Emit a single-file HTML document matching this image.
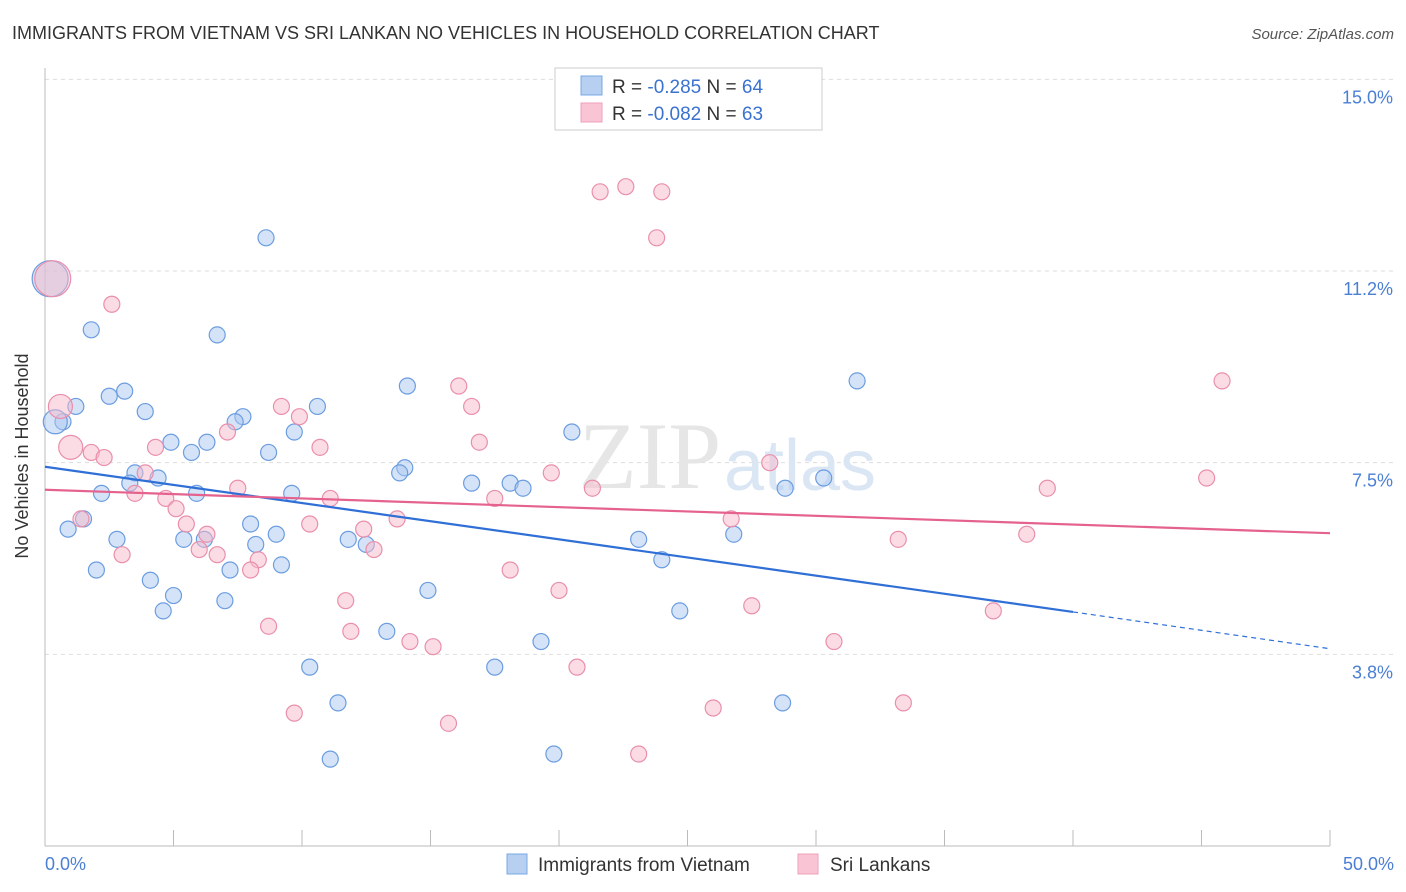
<!DOCTYPE html>
<html><head><meta charset="utf-8">
<style>
body{margin:0;background:#fff;font-family:"Liberation Sans",sans-serif;}
svg{display:block}
</style></head>
<body>
<svg width="1406" height="892" viewBox="0 0 1406 892" id="chart">
<text x="12" y="39" font-size="18" fill="#333">IMMIGRANTS FROM VIETNAM VS SRI LANKAN NO VEHICLES IN HOUSEHOLD CORRELATION CHART</text>
<text x="1394" y="39" font-size="15" fill="#555" font-style="italic" text-anchor="end">Source: ZipAtlas.com</text>
<g id="grid"></g>
<text x="650" y="488" font-size="95" fill="#e6e6e6" font-family="Liberation Serif,serif" text-anchor="middle">ZIP</text>
<text x="800" y="490" font-size="72" fill="#dbe6f4" text-anchor="middle">atlas</text>
<line x1="45" y1="68" x2="45" y2="846" stroke="#bbb"/>
<line x1="45" y1="846" x2="1330" y2="846" stroke="#bbb"/>
<g id="marks"></g>
<text x="28" y="456" font-size="18" fill="#333" text-anchor="middle" transform="rotate(-90 28 456)">No Vehicles in Household</text>
<text x="45" y="870" font-size="18" fill="#4a7fd4">0.0%</text>
<text x="1394" y="870" font-size="18" fill="#4a7fd4" text-anchor="end">50.0%</text>
<g>
<rect x="555" y="68" width="267" height="62" fill="#fff" stroke="#ccc"/>
<rect x="581" y="76" width="21" height="19" fill="#b7d0f2" stroke="#7aa7e3"/>
<rect x="581" y="103" width="21" height="19" fill="#f9c5d4" stroke="#eea0b8"/>
<text x="612" y="93" font-size="19" fill="#333">R = <tspan fill="#3a72d0">-0.285</tspan>   N = <tspan fill="#3a72d0">64</tspan></text>
<text x="612" y="120" font-size="19" fill="#333">R = <tspan fill="#3a72d0">-0.082</tspan>   N = <tspan fill="#3a72d0">63</tspan></text>
</g>
<g>
<rect x="507" y="854" width="20" height="20" fill="#b7d0f2" stroke="#7aa7e3"/>
<text x="538" y="871" font-size="19" fill="#333">Immigrants from Vietnam</text>
<rect x="798" y="854" width="20" height="20" fill="#f9c5d4" stroke="#eea0b8"/>
<text x="830" y="871" font-size="19" fill="#333">Sri Lankans</text>
</g>
</svg>
<script>
const yTicks=[3.75,7.5,11.25,15];
const yTickLabels=["3.8%","7.5%","11.2%","15.0%"];
const xTickVals=[0,5,10,15,20,25,30,35,40,45,50];
const blueX=[8.6,1.8,6.7,14.1,31.6,3.1,2.5,1.2,3.9,10.6,7.7,7.4,0.7,9.7,20.5,4.9,6.3,5.7,8.7,14.0,13.8,3.5,4.4,3.3,16.6,18.1,18.6,5.9,9.6,2.2,28.8,30.3,1.5,0.9,8.0,9.0,5.4,2.8,6.2,11.8,12.5,23.1,26.8,8.2,2.0,9.2,7.2,24.0,4.1,5.0,14.9,7.0,4.6,24.7,13.3,19.3,10.3,17.5,11.4,28.7,11.1,19.8,0.4,0.2];
const blueY=[11.9,10.1,10.0,9.0,9.1,8.9,8.8,8.6,8.5,8.6,8.4,8.3,8.3,8.1,8.1,7.9,7.9,7.7,7.7,7.4,7.3,7.3,7.2,7.1,7.1,7.1,7.0,6.9,6.9,6.9,7.0,7.2,6.4,6.2,6.3,6.1,6.0,6.0,6.0,6.0,5.9,6.0,6.1,5.9,5.4,5.5,5.4,5.6,5.2,4.9,5.0,4.8,4.6,4.6,4.2,4.0,3.5,3.5,2.8,2.8,1.7,1.8,8.3,11.1];
const blueSize=blueX.map((v,i)=>i===62?12:(i===63?18:8));
const pinkX=[22.6,21.6,24.0,23.8,2.6,0.3,16.1,45.8,0.6,9.2,9.9,16.6,7.1,4.3,16.9,10.7,1.0,1.8,2.3,28.2,3.9,19.7,45.2,7.5,21.3,39.0,3.5,17.5,11.1,4.7,5.1,1.4,13.7,5.5,10.3,26.7,12.4,6.3,33.2,38.2,6.0,6.7,12.8,3.0,8.3,8.0,18.1,20.0,11.7,27.5,36.9,8.7,11.9,14.2,15.1,30.7,20.7,33.4,9.7,26.0,15.7,23.1];
const pinkY=[12.9,12.8,12.8,11.9,10.6,11.1,9.0,9.1,8.6,8.6,8.4,8.6,8.1,7.8,7.9,7.8,7.8,7.7,7.6,7.5,7.3,7.3,7.2,7.0,7.0,7.0,6.9,6.8,6.8,6.8,6.6,6.4,6.4,6.3,6.3,6.4,6.2,6.1,6.0,6.1,5.8,5.7,5.8,5.7,5.6,5.4,5.4,5.0,4.8,4.7,4.6,4.3,4.2,4.0,3.9,4.0,3.5,2.8,2.6,2.7,2.4,1.8];
const pinkSize=pinkX.map((v,i)=>i===5?18:((i===8||i===16)?12:8));
const blueTrend=[[0,7.42],[40,4.58],[50,3.86]];
const pinkTrend=[[0,6.97],[50,6.12]];

const NS="http://www.w3.org/2000/svg";
const X=v=>45+v/50*1285;
const Y=v=>846-v*51.11;
const grid=document.getElementById('grid'),marks=document.getElementById('marks');
function mk(tag,attrs,parent){const e=document.createElementNS(NS,tag);for(const k in attrs)e.setAttribute(k,attrs[k]);parent.appendChild(e);return e;}
yTicks.forEach((t,i)=>{
  const l=mk('line',{x1:45,x2:1394,y1:Y(t),y2:Y(t),stroke:'#ddd','stroke-dasharray':'4,4'},grid);
  
  
  const tx=mk('text',{x:1393,y:Y(t)+24,'font-size':18,fill:'#4a7fd4','text-anchor':'end'},grid);
  tx.textContent=yTickLabels[i];
  
  
});
xTickVals.forEach(t=>{
  const l=mk('line',{x1:X(t),x2:X(t),y1:830,y2:846,stroke:'#bbb'},grid);
  
  
});
function pts(xs,ys,sz,fill,stroke,name){
  xs.forEach((x,i)=>{
    const c=mk('circle',{cx:X(x),cy:Y(ys[i]),r:sz[i],fill:fill,'fill-opacity':0.5,stroke:stroke,'stroke-width':1.2},marks);
    
    
  });
}
pts(blueX,blueY,blueSize,'#a9c7f0','#6b9de0','vietnam-point');
pts(pinkX,pinkY,pinkSize,'#f7b9cc','#ea8fab','srilankan-point');
const bl=mk('line',{x1:X(blueTrend[0][0]),y1:Y(blueTrend[0][1]),x2:X(blueTrend[1][0]),y2:Y(blueTrend[1][1]),stroke:'#2f6fd6','stroke-width':2.2},marks);


const bd=mk('line',{x1:X(blueTrend[1][0]),y1:Y(blueTrend[1][1]),x2:X(blueTrend[2][0]),y2:Y(blueTrend[2][1]),stroke:'#2f6fd6','stroke-width':1.2,'stroke-dasharray':'5,4'},marks);


const pl=mk('line',{x1:X(pinkTrend[0][0]),y1:Y(pinkTrend[0][1]),x2:X(pinkTrend[1][0]),y2:Y(pinkTrend[1][1]),stroke:'#e4628d','stroke-width':2.2},marks);


</script>
</body></html>
